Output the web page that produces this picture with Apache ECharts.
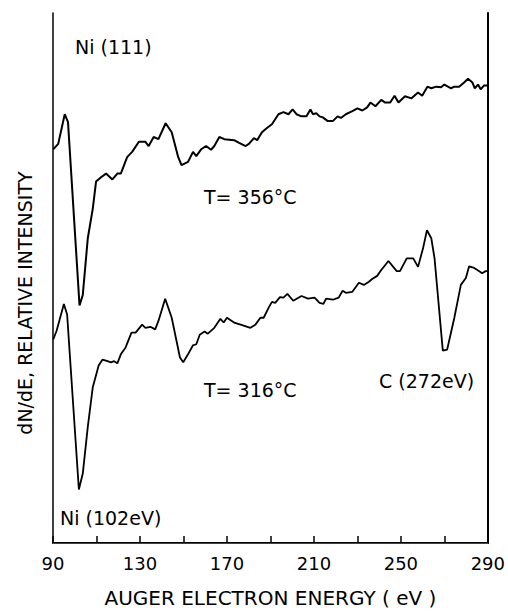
<!DOCTYPE html>
<html>
<head>
<meta charset="utf-8">
<script src="https://cdn.jsdelivr.net/npm/echarts@6/dist/echarts.min.js"></script>
<style>
  html, body { margin: 0; padding: 0; background: #fff; }
  #chart { width: 508px; height: 613px; }
</style>
</head>
<body>
<div id="chart"></div>
<script>
// energy in eV, signal in arbitrary units (0-100 of plot height)
const upperEnergy = [90.1, 92.4, 95.4, 96.9, 102.2, 103.7, 106.0, 108.3, 109.8, 112.1, 114.4, 117.3, 119.6, 121.2, 124.1, 126.4, 129.5, 132.5, 134.0, 136.3, 138.5, 141.8, 144.6, 147.6, 149.1, 152.1, 154.4, 155.9, 158.2, 160.4, 162.7, 164.2, 166.5, 168.8, 173.3, 175.6, 178.6, 180.1, 182.4, 183.9, 186.1, 188.4, 190.7, 193.7, 196.0, 198.3, 200.2, 202.0, 204.3, 206.6, 208.4, 209.6, 211.1, 212.6, 214.1, 216.4, 218.7, 220.9, 222.4, 224.7, 227.7, 230.0, 232.3, 234.5, 236.0, 238.3, 241.0, 242.8, 245.1, 247.1, 248.9, 251.9, 254.9, 257.9, 259.8, 262.2, 264.0, 266.3, 268.5, 270.0, 273.1, 274.6, 276.8, 279.1, 280.9, 282.9, 284.0, 285.5, 286.7, 288.2, 289.7]
const upperSignal = [74.3, 75.3, 80.9, 79.4, 44.8, 46.8, 57.5, 63.1, 68.2, 69.0, 69.7, 68.6, 69.7, 69.7, 72.8, 73.8, 75.7, 75.7, 74.9, 76.6, 76.2, 79.2, 77.5, 72.8, 71.3, 71.9, 73.8, 73.0, 74.3, 74.9, 74.2, 74.9, 76.6, 76.2, 76.0, 75.5, 74.9, 75.3, 76.4, 76.0, 77.5, 78.3, 79.0, 80.9, 81.3, 80.9, 81.8, 80.9, 80.5, 80.5, 81.8, 80.9, 81.1, 80.5, 80.3, 79.6, 79.6, 80.5, 80.2, 80.9, 81.5, 82.0, 81.6, 82.2, 83.1, 82.4, 83.6, 83.1, 83.1, 84.4, 83.1, 84.3, 83.9, 85.0, 84.4, 86.1, 85.8, 86.1, 86.0, 86.5, 85.8, 86.1, 86.1, 86.9, 87.6, 86.9, 85.8, 86.5, 85.6, 86.3, 86.3]

const lowerEnergy = [90.1, 91.7, 95.0, 96.5, 101.9, 103.7, 106.0, 108.3, 111.0, 112.8, 115.1, 116.6, 118.1, 119.6, 121.2, 123.4, 126.1, 128.0, 131.0, 132.5, 134.8, 137.0, 138.5, 141.6, 144.6, 148.4, 149.9, 152.1, 154.4, 155.9, 157.5, 159.7, 161.2, 164.2, 167.0, 168.5, 170.0, 173.3, 176.3, 180.8, 183.1, 185.4, 186.9, 189.2, 190.7, 192.2, 194.4, 196.0, 197.8, 200.5, 204.3, 207.3, 210.3, 212.6, 214.4, 215.6, 218.7, 221.4, 223.2, 224.7, 227.7, 230.7, 233.0, 235.3, 236.8, 239.1, 241.0, 244.3, 248.1, 249.6, 252.7, 255.7, 257.9, 260.2, 262.0, 264.0, 265.5, 269.3, 271.3, 274.6, 277.6, 279.9, 281.4, 283.7, 285.2, 287.4, 289.0, 289.7]
const lowerSignal = [38.4, 40.1, 45.1, 43.1, 10.1, 13.1, 21.9, 29.4, 33.5, 34.6, 34.3, 34.1, 34.3, 33.9, 35.6, 36.9, 39.7, 39.7, 41.2, 40.6, 40.8, 40.3, 41.9, 46.1, 42.5, 35.0, 34.1, 35.6, 37.3, 37.5, 39.3, 39.9, 39.5, 40.6, 42.3, 41.6, 42.5, 41.6, 41.2, 40.6, 41.2, 42.5, 42.5, 44.4, 45.5, 45.3, 46.4, 46.3, 47.0, 45.7, 46.6, 46.1, 46.3, 45.3, 45.1, 46.1, 45.9, 46.3, 47.6, 47.2, 47.4, 49.1, 48.7, 49.3, 49.8, 50.4, 51.5, 53.2, 51.3, 51.3, 53.7, 53.7, 52.1, 55.6, 59.0, 57.5, 53.7, 36.3, 36.5, 42.5, 48.7, 50.0, 52.2, 51.9, 51.5, 50.9, 51.3, 51.3]

const tickLabels = [90, 130, 170, 210, 250, 290]

const font = 'DejaVu Sans'

const zip = (xs, ys) => xs.map((x, i) => [x, ys[i]])

const myChart = echarts.init(document.getElementById('chart'), null, { renderer: 'svg' })

const baseX = {
  type: 'value',
  min: 90,
  max: 290,
  interval: 20,
  splitLine: { show: false },
}

const option = {
  backgroundColor: '#fff',
  animation: false,
  grid: { left: 53, right: 14, top: 13, bottom: 66 },
  xAxis: [
    {
      ...baseX,
      position: 'bottom',
      name: 'AUGER ELECTRON ENERGY ( eV )',
      nameLocation: 'middle',
      nameGap: 45,
      nameTextStyle: { fontFamily: font, fontSize: 20, color: '#000' },
      axisLine: { show: true, lineStyle: { color: '#000', width: 2 } },
      axisTick: { show: true, inside: true, length: 7, lineStyle: { color: '#000', width: 1.5 } },
      axisLabel: {
        margin: 11,
        fontFamily: font,
        fontSize: 18,
        color: '#000',
        formatter: (v) => (tickLabels.includes(v) ? String(v) : ''),
      },
    },
    {
      ...baseX,
      position: 'top',
      axisLine: { show: true, lineStyle: { color: '#444', width: 1.2 } },
      axisTick: { show: false },
      axisLabel: { show: false },
    },
  ],
  yAxis: [
    {
      type: 'value',
      min: 0,
      max: 100,
      position: 'left',
      axisLine: { show: true, lineStyle: { color: '#000', width: 1.5 } },
      axisTick: { show: false },
      axisLabel: { show: false },
      splitLine: { show: false },
    },
    {
      type: 'value',
      min: 0,
      max: 100,
      position: 'right',
      axisLine: { show: true, lineStyle: { color: '#000', width: 2 } },
      axisTick: { show: false },
      axisLabel: { show: false },
      splitLine: { show: false },
    },
  ],
  series: [
    {
      name: 'T=356',
      type: 'line',
      showSymbol: false,
      lineStyle: { color: '#000', width: 2 },
      data: zip(upperEnergy, upperSignal),
    },
    {
      name: 'T=316',
      type: 'line',
      showSymbol: false,
      lineStyle: { color: '#000', width: 1.8 },
      data: zip(lowerEnergy, lowerSignal),
    },
  ],
  graphic: [
    {
      type: 'text',
      x: 25,
      y: 303,
      rotation: Math.PI / 2,
      style: { text: 'dN/dE, RELATIVE INTENSITY', font: `19px "${font}"`, fill: '#000', align: 'center', verticalAlign: 'middle' },
    },
    { type: 'text', x: 75, y: 47, style: { text: 'Ni (111)', font: `19px "${font}"`, fill: '#000', verticalAlign: 'middle' } },
    { type: 'text', x: 204, y: 197, style: { text: 'T= 356°C', font: `19px "${font}"`, fill: '#000', verticalAlign: 'middle' } },
    { type: 'text', x: 204, y: 390, style: { text: 'T= 316°C', font: `19px "${font}"`, fill: '#000', verticalAlign: 'middle' } },
    { type: 'text', x: 379, y: 381, style: { text: 'C (272eV)', font: `19px "${font}"`, fill: '#000', verticalAlign: 'middle' } },
    { type: 'text', x: 60, y: 518, style: { text: 'Ni (102eV)', font: `19px "${font}"`, fill: '#000', verticalAlign: 'middle' } },
  ],
}

myChart.setOption(option)
</script>
</body>
</html>
